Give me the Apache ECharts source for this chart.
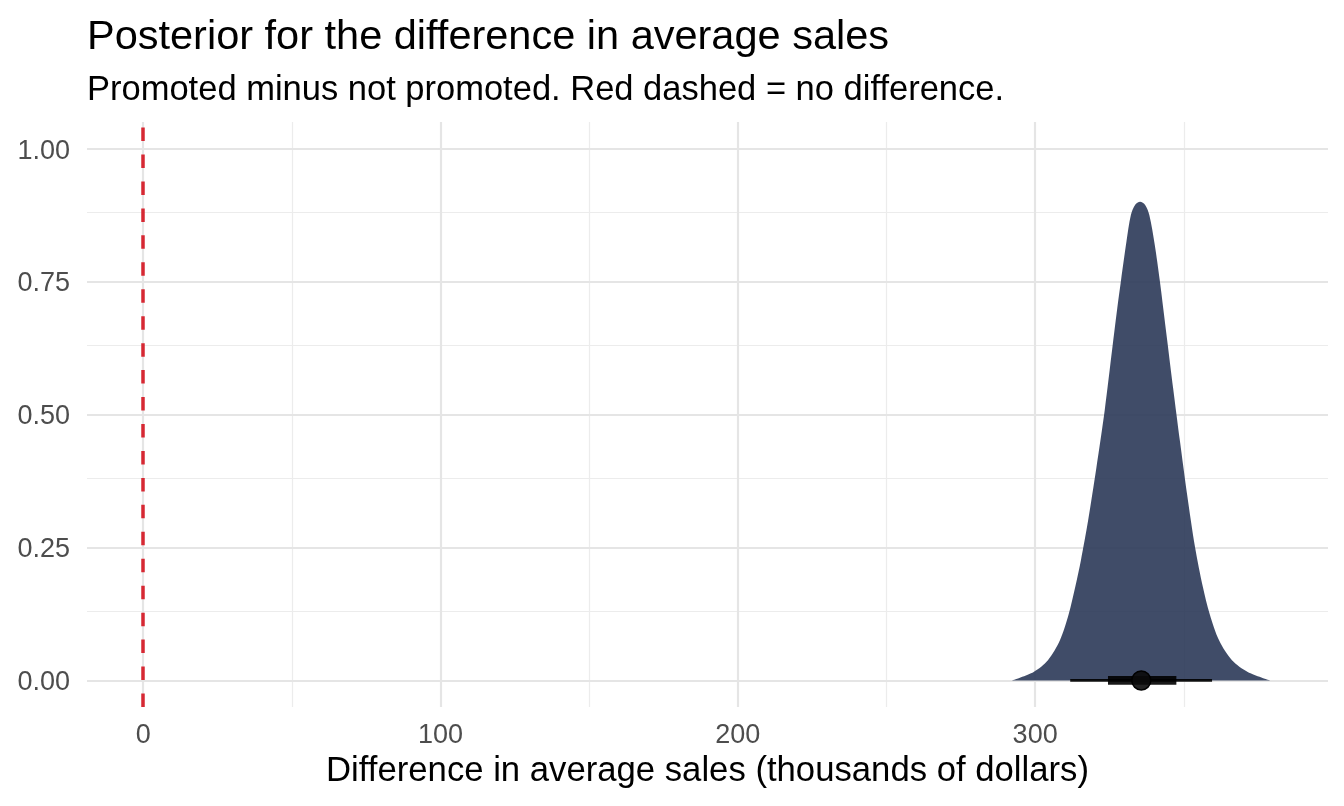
<!DOCTYPE html>
<html>
<head>
<meta charset="utf-8">
<title>Posterior for the difference in average sales</title>
<script src="https://cdn.jsdelivr.net/npm/echarts@6/dist/echarts.min.js"></script>
<style>
  html, body { margin: 0; padding: 0; background: #fff; }
  #chart { width: 1344px; height: 806px; }
</style>
</head>
<body>
<div id="chart"></div>
<script>
// density outline of the posterior difference (thousands of dollars)
var densityX = [292.2, 299.5, 304.3, 308.3, 311.3, 313.5, 315.4, 317.8, 320.6, 323.4,
  325.9, 327.6, 328.9, 330.7, 332.2, 333.6, 335.3, 337.0, 338.4, 340.2,
  341.9, 343.1, 344.4, 346.4, 348.7, 351.1, 353.8, 356.4, 358.7, 361.9,
  366.2, 371.5, 379.1];
var densityY = [0, 0.016, 0.038, 0.075, 0.125, 0.176, 0.226, 0.300, 0.400, 0.508,
  0.622, 0.699, 0.753, 0.825, 0.875, 0.894, 0.900, 0.894, 0.875, 0.820,
  0.753, 0.699, 0.640, 0.550, 0.450, 0.350, 0.250, 0.176, 0.125, 0.075,
  0.038, 0.016, 0];

// point + interval summary
var pointEstimate = 335.7;
var intervalThin = [311.8, 359.5];
var intervalThick = [324.5, 347.5];

// reference line: no difference
var noDifference = 0;

// axis breaks
var xMajor = [0, 100, 200, 300];
var xMinor = [50, 150, 250, 350];
var yMajor = [0, 0.25, 0.5, 0.75, 1];
var yMinor = [0.125, 0.375, 0.625, 0.875];

var FONT = '"Liberation Sans", Arial, Helvetica, sans-serif';

var chart = echarts.init(document.getElementById('chart'), null, { renderer: 'canvas' });

function gridLines(values, axisKey, width, color) {
  return values.map(function (v) {
    var d = { lineStyle: { width: width, color: color, type: 'solid' } };
    d[axisKey] = v;
    return d;
  });
}

var densityData = densityX.map(function (x, i) { return [x, densityY[i]]; });

var option = {
  animation: false,
  backgroundColor: '#ffffff',
  textStyle: { fontFamily: FONT },
  title: [
    {
      text: 'Posterior for the difference in average sales',
      left: 82, top: 12,
      textStyle: { fontFamily: FONT, fontSize: 41.5, lineHeight: 41.5, fontWeight: 'normal', color: '#000' }
    },
    {
      text: 'Promoted minus not promoted. Red dashed = no difference.',
      left: 82, top: 68.5,
      textStyle: { fontFamily: FONT, fontSize: 34.5, lineHeight: 34.5, fontWeight: 'normal', color: '#000' }
    }
  ],
  grid: { left: 87, right: 16, top: 122, bottom: 99 },
  xAxis: {
    type: 'value',
    min: -18.9, max: 398.5,
    name: 'Difference in average sales (thousands of dollars)',
    nameLocation: 'middle',
    nameGap: 45,
    nameTextStyle: { fontFamily: FONT, fontSize: 34.7, lineHeight: 34.7, color: '#000' },
    axisLine: { show: false, onZero: false },
    axisTick: { show: false, customValues: xMajor },
    splitLine: { show: false },
    axisLabel: {
      customValues: xMajor,
      margin: 15,
      fontFamily: FONT, fontSize: 27, lineHeight: 27, color: '#4d4d4d'
    }
  },
  yAxis: {
    type: 'value',
    min: -0.05, max: 1.05,
    axisLine: { show: false, onZero: false },
    axisTick: { show: false, customValues: yMajor },
    splitLine: { show: false },
    axisLabel: {
      customValues: yMajor,
      margin: 17,
      fontFamily: FONT, fontSize: 27, lineHeight: 27, color: '#4d4d4d',
      formatter: function (v) { return '{t|' + v.toFixed(2) + '}'; },
      rich: {
        t: { fontFamily: FONT, fontSize: 27, lineHeight: 27, color: '#4d4d4d', padding: [5, 0, 0, 0] }
      }
    }
  },
  series: [
    {
      // panel grid lines
      type: 'line',
      data: [],
      silent: true,
      z: 1,
      markLine: {
        silent: true,
        z: 1,
        symbol: ['none', 'none'],
        label: { show: false },
        animation: false,
        data: []
          .concat(gridLines(xMinor, 'xAxis', 1.2, '#ececec'))
          .concat(gridLines(yMinor, 'yAxis', 1.2, '#ececec'))
          .concat(gridLines(xMajor, 'xAxis', 2.2, '#e5e5e5'))
          .concat(gridLines(yMajor, 'yAxis', 2.2, '#e5e5e5'))
      }
    },
    {
      type: 'line',
      data: [],
      silent: true,
      z: 2,
      markLine: {
        silent: true,
        z: 2,
        symbol: ['none', 'none'],
        label: { show: false },
        animation: false,
        data: [{ xAxis: noDifference }],
        lineStyle: { color: '#d62833', width: 3.5, type: [13.5, 13.45] }
      }
    },
    {
      name: 'density',
      type: 'line',
      data: densityData,
      z: 6,
      smooth: 0.3,
      showSymbol: false,
      symbol: 'none',
      lineStyle: { width: 0 },
      areaStyle: { color: 'rgb(43, 56, 88)', opacity: 0.9, origin: 0 }
    },
    {
      name: 'interval thin',
      type: 'line',
      data: intervalThin.map(function (x) { return [x, 0]; }),
      z: 7,
      symbol: 'none',
      lineStyle: { color: 'rgba(0,0,0,0.9)', width: 2.6, cap: 'butt' }
    },
    {
      name: 'interval thick',
      type: 'line',
      data: intervalThick.map(function (x) { return [x, 0]; }),
      z: 8,
      symbol: 'none',
      lineStyle: { color: 'rgba(0,0,0,0.9)', width: 8.6, cap: 'butt' }
    },
    {
      name: 'point',
      type: 'scatter',
      data: [[pointEstimate, 0]],
      z: 9,
      symbolSize: 19,
      itemStyle: { color: 'rgba(10,10,10,0.9)', borderColor: '#000', borderWidth: 1.5, opacity: 1 }
    }
  ]
};

chart.setOption(option);
</script>
</body>
</html>
